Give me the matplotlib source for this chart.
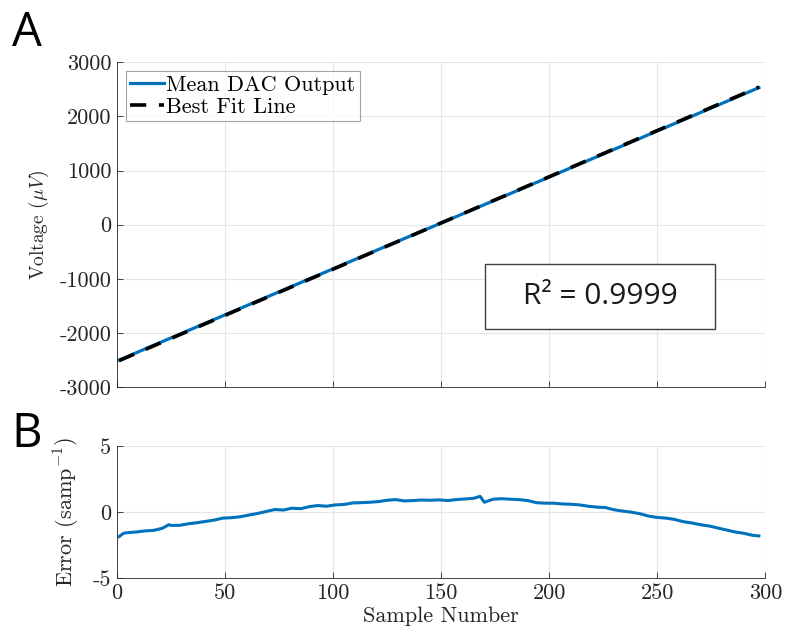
import matplotlib
matplotlib.use("Agg")
import matplotlib.pyplot as plt
import numpy as np
from matplotlib.patches import Rectangle

plt.rcParams['font.family'] = 'serif'
plt.rcParams['font.serif'] = ['cmr10']
plt.rcParams['mathtext.fontset'] = 'cm'
plt.rcParams['axes.unicode_minus'] = False
plt.rcParams['axes.formatter.use_mathtext'] = False

# ---- Data ----
volt_samples = [1, 25, 50, 75, 100, 125, 150, 175, 200, 225, 250, 275, 297]
volt_values = [-2500, -2090, -1665, -1240, -815, -390, 30, 455, 880, 1305, 1730, 2155, 2530]
fit_samples = [1, 297]
fit_values = [-2510, 2540]

err_samples = [1, 3, 5, 9, 13, 17, 21, 24, 25, 29, 33, 37, 41, 45, 49, 53, 57, 61, 65, 69,
               73, 77, 81, 85, 89, 93, 97, 101, 105, 109, 113, 117, 121, 125, 129, 133,
               137, 141, 145, 149, 153, 157, 161, 165, 168, 170, 174, 178, 182, 186, 190,
               194, 198, 202, 206, 210, 214, 218, 222, 226, 230, 234, 238, 242, 246, 250,
               254, 258, 262, 266, 270, 274, 278, 282, 286, 290, 294, 297]
err_values = [-1.85, -1.6, -1.55, -1.5, -1.42, -1.38, -1.22, -0.95, -1.0, -1.0, -0.88, -0.8,
              -0.7, -0.6, -0.45, -0.42, -0.35, -0.22, -0.1, 0.05, 0.2, 0.16, 0.3, 0.26,
              0.42, 0.5, 0.45, 0.55, 0.58, 0.7, 0.72, 0.75, 0.8, 0.9, 0.95, 0.85, 0.88,
              0.92, 0.9, 0.93, 0.88, 0.95, 1.0, 1.05, 1.2, 0.75, 0.98, 1.02, 0.98, 0.95,
              0.88, 0.72, 0.68, 0.68, 0.62, 0.6, 0.55, 0.45, 0.38, 0.35, 0.18, 0.08, 0.0,
              -0.12, -0.3, -0.4, -0.45, -0.55, -0.72, -0.82, -0.95, -1.05, -1.2, -1.35,
              -1.5, -1.6, -1.75, -1.8]

x_ticks = [0, 50, 100, 150, 200, 250, 300]
volt_ticks = [-3000, -2000, -1000, 0, 1000, 2000, 3000]
err_ticks = [-5, 0, 5]

blue = '#0072BD'
axcol = '#262626'

fig = plt.figure(figsize=(7.85, 6.41), dpi=100)
ax1 = fig.add_axes([0.149, 0.396, 0.826, 0.507])
ax2 = fig.add_axes([0.149, 0.098, 0.826, 0.206])

for ax in (ax1, ax2):
    ax.grid(True, color='#e6e6e6', linewidth=0.8)
    ax.set_axisbelow(True)
    for s in ('top', 'right'):
        ax.spines[s].set_visible(False)
    for s in ('left', 'bottom'):
        ax.spines[s].set_color(axcol)
        ax.spines[s].set_linewidth(0.6)
    ax.tick_params(direction='in', length=4, width=0.6, color=axcol,
                   labelsize=16, labelcolor=axcol, top=False, right=False, pad=4)
    ax.set_xlim(0, 300)
    ax.set_xticks(x_ticks)

ax1.plot(volt_samples, volt_values, color=blue, lw=2.3, label='Mean DAC Output')
ax1.plot(fit_samples, fit_values, color='black', lw=2.6, ls=(0, (4.5, 3.5)), label='Best Fit Line')
ax1.set_ylim(-3000, 3000)
ax1.set_yticks(volt_ticks)
ax1.set_yticklabels([str(v) for v in volt_ticks])
ax1.set_xticklabels([])
ax1.set_ylabel(r'Voltage ($\mu V$)', fontsize=14, color=axcol, labelpad=6)
leg = ax1.legend(loc='upper left', fontsize=16, frameon=True, fancybox=False,
                 handlelength=1.5, handletextpad=0.1, borderpad=0.2, labelspacing=0.1,
                 borderaxespad=0.4)
leg.get_frame().set_edgecolor('#8c8c8c')
leg.get_frame().set_linewidth(0.8)

ax1.add_patch(Rectangle((0.568, 0.178), 0.355, 0.2, transform=ax1.transAxes,
                        facecolor='white', edgecolor='#404040', lw=1.0, zorder=5))
ax1.text(0.745, 0.28, 'R² = 0.9999', transform=ax1.transAxes, fontsize=21.5,
         family='Open Sans', ha='center', va='center', color='#1a1a1a', zorder=6)

ax2.plot(err_samples, err_values, color=blue, lw=2.2)
ax2.set_ylim(-5, 5)
ax2.set_yticks(err_ticks)
ax2.set_yticklabels([str(v) for v in err_ticks])
ax2.set_xticklabels([str(v) for v in x_ticks])
ax2.set_ylabel(r'Error (samp$^{-1}$)', fontsize=16, color=axcol, labelpad=8)
ax2.set_xlabel('Sample Number', fontsize=16, color=axcol, labelpad=2)

fig.text(0.015, 0.985, 'A', fontsize=34, family='Open Sans', va='top', ha='left')
fig.text(0.015, 0.359, 'B', fontsize=34, family='Open Sans', va='top', ha='left')

fig.savefig('out.png', dpi=100)
